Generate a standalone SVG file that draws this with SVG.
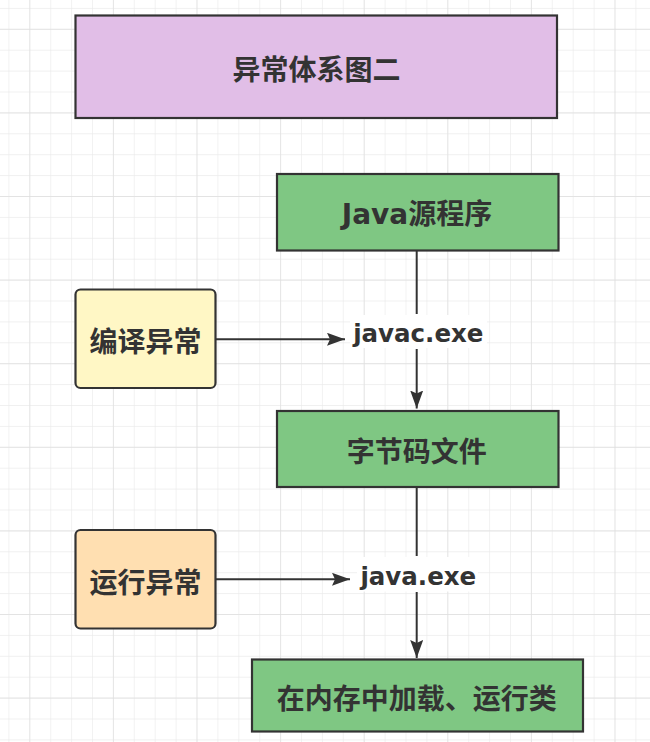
<svg xmlns="http://www.w3.org/2000/svg" width="650" height="742" viewBox="0 0 650 742">
<style>
.box{stroke:#333333;stroke-width:2.2}
.t{font-family:"DejaVu Sans","Noto Sans CJK SC",sans-serif;font-weight:bold;font-size:28px;fill:#333333;text-anchor:middle}
.lbl{font-family:"DejaVu Sans","Noto Sans CJK SC",sans-serif;font-weight:bold;font-size:24.5px;fill:#333333;text-anchor:middle}
.edge{stroke:#333333;stroke-width:2;fill:none}
</style>
<defs>
<pattern id="minor" x="29.3" y="28.8" width="20.9" height="20.9" patternUnits="userSpaceOnUse">
<path d="M0 0H20.9M0 0V20.9" stroke="#ebebeb" stroke-width="1.3" fill="none"/>
</pattern>
<pattern id="major" x="29.3" y="28.8" width="83.6" height="83.6" patternUnits="userSpaceOnUse">
<path d="M0 0H83.6M0 0V83.6" stroke="#dfdfdf" stroke-width="1.3" fill="none"/>
</pattern>
<marker id="arr" markerWidth="18" markerHeight="13" refX="18" refY="6.5" orient="auto" markerUnits="userSpaceOnUse" viewBox="0 0 18 13">
<path d="M0 0L18 6.5L0 13L3 6.5Z" fill="#333333"/>
</marker>
</defs>
<rect width="650" height="742" fill="#ffffff"/>
<rect width="650" height="742" fill="url(#minor)"/>
<rect width="650" height="742" fill="url(#major)"/>

<g id="connectors">
<path class="edge" d="M416.7 251V314"/>
<path class="edge" d="M416.7 349V408.5" marker-end="url(#arr)"/>
<path class="edge" d="M216 339.3H345" marker-end="url(#arr)"/>
<path class="edge" d="M416.7 488V556"/>
<path class="edge" d="M416.7 592V658" marker-end="url(#arr)"/>
<path class="edge" d="M216 579.3H350" marker-end="url(#arr)"/>
</g>

<g id="title">
<rect class="box" x="75.5" y="15.5" width="481.5" height="102.5" fill="#e1bee7"/>
<text class="t" x="316.5" y="79.5">异常体系图二</text>
</g>
<g id="java-source">
<rect class="box" x="277" y="174" width="281.5" height="76.5" fill="#7fc783"/>
<text class="t" x="417" y="224">Java源程序</text>
</g>
<g id="javac-label">
<rect x="350" y="315" width="137" height="33" fill="#ffffff"/>
<text class="lbl" x="418.3" y="342">javac.exe</text>
</g>
<g id="bytecode">
<rect class="box" x="277" y="411" width="281.5" height="76" fill="#7fc783"/>
<text class="t" x="416.7" y="461.5">字节码文件</text>
</g>
<g id="compile-error">
<rect class="box" x="75.5" y="289.5" width="140" height="98.5" rx="5" fill="#fff7c5"/>
<text class="t" x="145.5" y="352">编译异常</text>
</g>
<g id="java-label">
<rect x="357" y="557" width="121" height="34.5" fill="#ffffff"/>
<text class="lbl" x="418.3" y="585">java.exe</text>
</g>
<g id="runtime-error">
<rect class="box" x="75.5" y="530" width="140" height="98.5" rx="5" fill="#ffdfb1"/>
<text class="t" x="145.5" y="593">运行异常</text>
</g>
<g id="load-run">
<rect class="box" x="252" y="659.5" width="331" height="72" fill="#7fc783"/>
<text class="t" x="416.7" y="708.5">在内存中加载、运行类</text>
</g>
</svg>
